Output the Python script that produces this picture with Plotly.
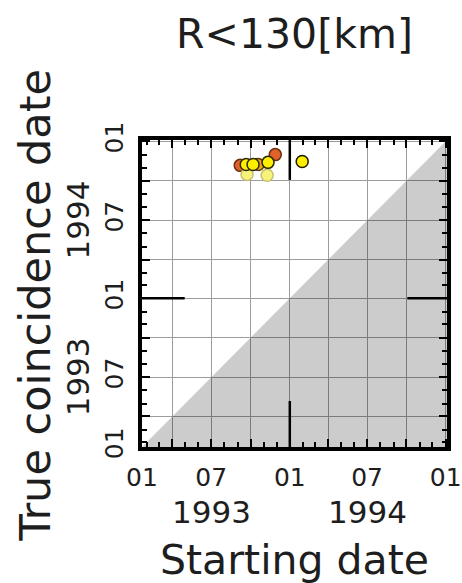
import plotly.graph_objects as go

# ---- data ----
start_dates = ['1993-09-07', '1993-11-28', '1993-10-19',
               '1993-09-23', '1993-11-09',
               '1993-09-21', '1993-10-07', '1993-11-11', '1994-01-30']
coincidence_dates = ['1994-11-06', '1994-12-01', '1994-11-08',
                     '1994-10-16', '1994-10-14',
                     '1994-11-08', '1994-11-08', '1994-11-13', '1994-11-15']
point_colors = ['#e0622a', '#e0622a', '#f0a020',
                '#f6f27a', '#f6f27a',
                '#ffee00', '#ffee00', '#ffee00', '#ffee00']
point_lines = ['#6a3010', '#6a3010', '#5a3a00',
               '#c8c070', '#c8c070',
               '#2a2a00', '#2a2a00', '#2a2a00', '#1a1a00']

axis_start = '1993-01-20'
axis_end = '1995-01-04'
tick_dates = ['1993-01-20', '1993-04-01', '1993-07-01', '1993-10-01', '1994-01-01',
              '1994-04-01', '1994-07-01', '1994-10-01', '1995-01-01']
tick_text = ['01', '', '07', '', '01', '', '07', '', '01']
year_dates = ['1993-07-01', '1994-07-01']
year_text = ['1993', '1994']
year_boundary = '1994-01-01'

FONT = 'DejaVu Sans'
TXT = '#1e1e1e'

fig = go.Figure()

# shaded region below the diagonal (start date later than coincidence date)
fig.add_trace(go.Scatter(
    x=[axis_start, axis_end, axis_end, axis_start],
    y=[axis_start, axis_start, axis_end, axis_start],
    mode='lines', fill='toself', fillcolor='rgba(0,0,0,0.2)',
    line=dict(width=0), hoverinfo='skip', showlegend=False))

fig.add_trace(go.Scatter(
    x=start_dates, y=coincidence_dates, mode='markers',
    marker=dict(size=12, color=point_colors, line=dict(color=point_lines, width=1.5)),
    showlegend=False))

axis_common = dict(
    type='date', range=[axis_start, axis_end],
    tickmode='array', tickvals=tick_dates, ticktext=tick_text,
    ticks='inside', ticklen=8, tickwidth=2, tickcolor='black',
    showgrid=True, gridcolor='#9c9c9c', gridwidth=1.3,
    showline=True, linecolor='black', linewidth=3.5, mirror='allticks',
    minor=dict(dtick='M1', ticks='inside', ticklen=5, tickwidth=2, tickcolor='black',
               showgrid=False),
    zeroline=False, fixedrange=True,
)

fig.update_xaxes(**axis_common, tickfont=dict(family=FONT, size=25, color=TXT),
                 ticklabelstandoff=5)
fig.update_yaxes(**axis_common, tickfont=dict(family=FONT, size=25, color=TXT),
                 tickangle=-90, ticklabelstandoff=5)

shapes = []
for xr, yr, x0, x1, y0, y1 in [
    ('x', 'paper', year_boundary, year_boundary, 0, 0.15),
    ('x', 'paper', year_boundary, year_boundary, 0.87, 1),
    ('paper', 'y', 0, 0.14, year_boundary, year_boundary),
    ('paper', 'y', 0.87, 1, year_boundary, year_boundary),
]:
    shapes.append(dict(type='line', xref=xr, yref=yr, x0=x0, x1=x1, y0=y0, y1=y1,
                       line=dict(color='black', width=2.5), layer='above'))

annotations = []
for d, t in zip(year_dates, year_text):
    annotations.append(dict(x=d, xref='x', y=0, yref='paper', yanchor='middle',
                            yshift=-65, text=t, showarrow=False,
                            font=dict(family=FONT, size=31, color=TXT)))
    annotations.append(dict(y=d, yref='y', x=0, xref='paper', xanchor='center',
                            xshift=-64, text=t, showarrow=False, textangle=-90,
                            font=dict(family=FONT, size=31, color=TXT)))

annotations.append(dict(text='Starting date', x=0.5, xref='paper', y=0, yref='paper',
                        yanchor='middle', yshift=-113, showarrow=False,
                        font=dict(family=FONT, size=41, color=TXT)))
annotations.append(dict(text='True coincidence date', y=0.5, yref='paper', x=0,
                        xref='paper', xanchor='center', xshift=-108, yshift=-12,
                        showarrow=False, textangle=-90,
                        font=dict(family=FONT, size=43, color=TXT)))

fig.update_layout(
    width=462, height=583,
    margin=dict(l=142, r=15, t=140, b=136, autoexpand=False),
    paper_bgcolor='white', plot_bgcolor='white',
    title=dict(text='R<130[km]', x=0.5, xref='paper', xanchor='center',
               y=1 - 34 / 583, yref='container', yanchor='middle',
               font=dict(family=FONT, size=41, color=TXT)),
    shapes=shapes, annotations=annotations,
)

fig.write_html('out.html')
